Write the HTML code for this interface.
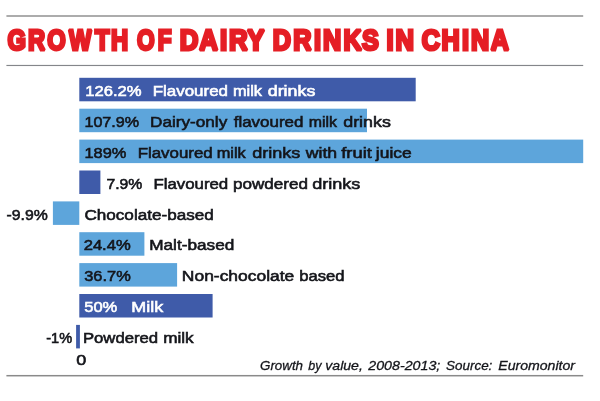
<!DOCTYPE html>
<html><head><meta charset="utf-8"><title>Growth of dairy drinks in China</title>
<style>
html,body{margin:0;padding:0;background:#fff;}
svg{display:block;}
text{font-family:"Liberation Sans",sans-serif;white-space:pre;}
.t{font-weight:bold;font-size:29.4px;stroke-width:3px;stroke-linejoin:miter;stroke-miterlimit:1.6;fill:#E51E25;stroke:#E51E25;}
.l{font-size:15.5px;stroke-width:0.6px;}
.f{font-size:13.6px;font-style:italic;stroke-width:0.3px;}
</style></head><body>
<svg width="600" height="401" viewBox="0 0 600 401">
<rect width="600" height="401" fill="#fff"/>
<rect x="6.4" y="15.35" width="576.8" height="1.3" fill="#808080"/>
<rect x="6.4" y="64.9" width="576.8" height="1.15" fill="#84868a"/>
<rect x="6.4" y="374.95" width="576.8" height="1.5" fill="#8a8a8a"/>
<rect x="79.3" y="77.8" width="336.4" height="23.5" fill="#3F5BA9"/>
<rect x="79.3" y="108.7" width="287.7" height="23.5" fill="#5DA5DB"/>
<rect x="79.3" y="139.6" width="503.9" height="23.5" fill="#5DA5DB"/>
<rect x="79.3" y="170.5" width="21.1" height="23.5" fill="#3F5BA9"/>
<rect x="52.9" y="201.4" width="26.4" height="23.5" fill="#5DA5DB"/>
<rect x="79.3" y="232.2" width="65.1" height="23.5" fill="#5DA5DB"/>
<rect x="79.3" y="263.1" width="97.8" height="23.5" fill="#5DA5DB"/>
<rect x="79.3" y="294.0" width="133.3" height="23.5" fill="#3F5BA9"/>
<rect x="76.1" y="324.9" width="3.8" height="23.5" fill="#3F5BA9"/>
<text class="t" transform="translate(0,49.6) scale(0.8079,1)" x="9.30 34.79 58.56 85.27 117.56 137.28">GROWTH</text>
<text class="t" transform="translate(0,49.6) scale(0.7709,1)" x="177.88 204.53">OF</text>
<text class="t" transform="translate(0,49.6) scale(0.8785,1)" x="204.54 226.95 250.57 260.65 281.54">DAIRY</text>
<text class="t" transform="translate(0,49.6) scale(0.8579,1)" x="317.82 341.77 365.90 376.48 400.45 422.07">DRINKS</text>
<text class="t" transform="translate(0,49.6) scale(0.8691,1)" x="444.62 455.09">IN</text>
<text class="t" transform="translate(0,49.6) scale(0.8571,1)" x="492.12 515.25 538.90 549.67 572.54">CHINA</text>
<text class="l" y="96.0" fill="#fff" stroke="#fff"><tspan x="85.18" textLength="56.43" lengthAdjust="spacingAndGlyphs">126.2%</tspan> <tspan x="152.66" textLength="75.40" lengthAdjust="spacingAndGlyphs">Flavoured</tspan> <tspan x="232.91" textLength="29.03" lengthAdjust="spacingAndGlyphs">milk</tspan> <tspan x="267.71" textLength="47.70" lengthAdjust="spacingAndGlyphs">drinks</tspan></text>
<text class="l" y="126.9" fill="#14151a" stroke="#14151a"><tspan x="84.46" textLength="54.63" lengthAdjust="spacingAndGlyphs">107.9%</tspan> <tspan x="150.14" textLength="77.10" lengthAdjust="spacingAndGlyphs">Dairy-only</tspan> <tspan x="233.75" textLength="69.59" lengthAdjust="spacingAndGlyphs">flavoured</tspan> <tspan x="308.73" textLength="28.32" lengthAdjust="spacingAndGlyphs">milk</tspan> <tspan x="343.21" textLength="47.70" lengthAdjust="spacingAndGlyphs">drinks</tspan></text>
<text class="l" y="157.8" fill="#14151a" stroke="#14151a"><tspan x="84.44" textLength="41.97" lengthAdjust="spacingAndGlyphs">189%</tspan> <tspan x="137.66" textLength="75.09" lengthAdjust="spacingAndGlyphs">Flavoured</tspan> <tspan x="216.71" textLength="29.08" lengthAdjust="spacingAndGlyphs">milk</tspan> <tspan x="252.21" textLength="48.21" lengthAdjust="spacingAndGlyphs">drinks</tspan> <tspan x="305.77" textLength="31.42" lengthAdjust="spacingAndGlyphs">with</tspan> <tspan x="341.25" textLength="30.57" lengthAdjust="spacingAndGlyphs">fruit</tspan> <tspan x="375.84" textLength="35.85" lengthAdjust="spacingAndGlyphs">juice</tspan></text>
<text class="l" y="188.6" fill="#14151a" stroke="#14151a"><tspan x="106.49" textLength="35.86" lengthAdjust="spacingAndGlyphs">7.9%</tspan> <tspan x="153.41" textLength="74.83" lengthAdjust="spacingAndGlyphs">Flavoured</tspan> <tspan x="232.92" textLength="74.99" lengthAdjust="spacingAndGlyphs">powdered</tspan> <tspan x="312.21" textLength="48.21" lengthAdjust="spacingAndGlyphs">drinks</tspan></text>
<text class="l" y="219.5" fill="#14151a" stroke="#14151a"><tspan x="6.49" textLength="41.26" lengthAdjust="spacingAndGlyphs">-9.9%</tspan> <tspan x="84.45" textLength="129.33" lengthAdjust="spacingAndGlyphs">Chocolate-based</tspan></text>
<text class="l" y="250.4" fill="#14151a" stroke="#14151a"><tspan x="83.66" textLength="47.05" lengthAdjust="spacingAndGlyphs">24.4%</tspan> <tspan x="149.19" textLength="85.17" lengthAdjust="spacingAndGlyphs">Malt-based</tspan></text>
<text class="l" y="281.3" fill="#14151a" stroke="#14151a"><tspan x="84.24" textLength="46.48" lengthAdjust="spacingAndGlyphs">36.7%</tspan> <tspan x="181.88" textLength="112.38" lengthAdjust="spacingAndGlyphs">Non-chocolate</tspan> <tspan x="299.19" textLength="45.34" lengthAdjust="spacingAndGlyphs">based</tspan></text>
<text class="l" y="312.2" fill="#fff" stroke="#fff"><tspan x="84.23" textLength="33.07" lengthAdjust="spacingAndGlyphs">50%</tspan> <tspan x="131.34" textLength="31.90" lengthAdjust="spacingAndGlyphs">Milk</tspan></text>
<text class="l" y="343.0" fill="#14151a" stroke="#14151a"><tspan x="46.23" textLength="25.88" lengthAdjust="spacingAndGlyphs">-1%</tspan> <tspan x="82.92" textLength="75.24" lengthAdjust="spacingAndGlyphs">Powdered</tspan> <tspan x="163.17" textLength="30.55" lengthAdjust="spacingAndGlyphs">milk</tspan></text>
<text class="l" y="364.5" fill="#14151a" stroke="#14151a"><tspan x="76.21" textLength="10.03" lengthAdjust="spacingAndGlyphs">0</tspan></text>
<text class="f" y="370.4" fill="#14151a" stroke="#14151a"><tspan x="260.01" textLength="43.06" lengthAdjust="spacingAndGlyphs">Growth</tspan> <tspan x="308.20" textLength="13.18" lengthAdjust="spacingAndGlyphs">by</tspan> <tspan x="325.28" textLength="37.61" lengthAdjust="spacingAndGlyphs">value,</tspan> <tspan x="368.26" textLength="72.05" lengthAdjust="spacingAndGlyphs">2008-2013;</tspan> <tspan x="446.00" textLength="46.35" lengthAdjust="spacingAndGlyphs">Source:</tspan> <tspan x="498.24" textLength="76.79" lengthAdjust="spacingAndGlyphs">Euromonitor</tspan></text>
</svg>
</body></html>
